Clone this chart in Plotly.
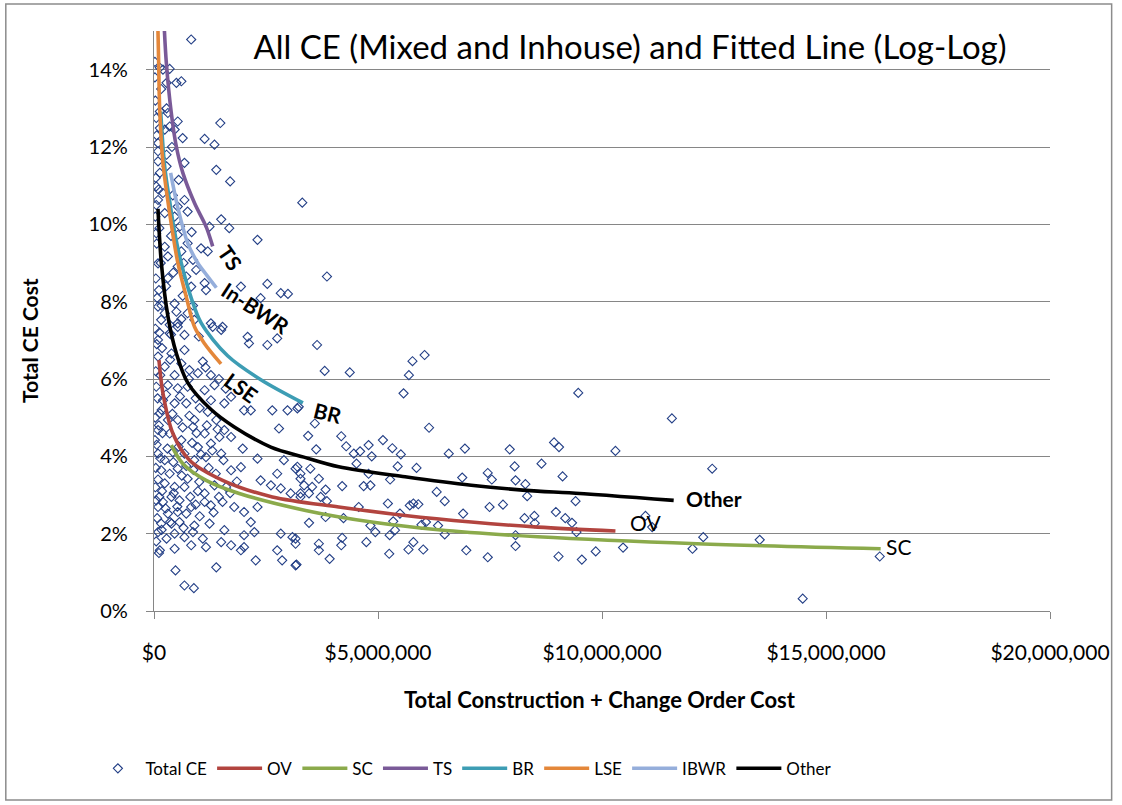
import plotly.graph_objects as go

# ---------------------------------------------------------------------------
# Individual CE records: total construction + change-order cost ($ millions)
# and total CE cost (% of construction cost)
# ---------------------------------------------------------------------------
ce_cost_musd = [
    0.83, 0.02, 0.13, 0.20, 0.35, 0.02, 0.28, 0.50, 0.61, 0.16,
    0.28, 0.13, 0.31, 0.05, 0.53, 0.35, 0.13, 0.24, 0.46, 1.48, 0.64, 1.13, 1.35, 0.09,
    0.09, 0.28, 0.09, 0.68, 0.28, 1.39, 0.13, 1.70, 0.05, 0.20, 0.09, 0.68, 0.53, 0.05,
    0.75, 0.24, 0.46, 1.50, 1.24, 1.68, 0.05, 0.53, 2.31, 0.75, 0.24, 1.05, 1.20, 0.61,
    0.31, 0.87, 0.09, 0.53, 0.94, 0.72, 0.31, 1.13, 1.16, 1.94, 2.53, 2.83, 2.99, 2.38,
    0.83, 0.09, 0.24, 0.50, 0.75, 0.90, 1.27, 1.53, 0.16, 0.35, 0.53, 3.31, 3.86,
    0.09, 0.35, 0.53, 0.68, 1.31, 1.50, 2.09, 2.53, 2.75, 2.12,
    0.09, 0.39, 0.24, 0.61, 0.79, 1.09, 0.98, 1.27, 0.05, 0.31, 0.53, 0.75, 1.13, 1.35,
    1.72, 1.57, 2.01, 2.16, 2.64, 2.98, 3.20, 2.79, 0.20, 0.46, 0.72, 0.90, 0.87, 1.27,
    1.20, 1.39, 1.57, 1.72, 1.46, 0.13, 0.31, 0.53, 0.09, 0.35, 0.61, 1.13, 1.27, 0.02,
    0.09, 0.24, 0.42, 0.68, 0.98, 0.90, 1.16, 1.50, 1.98, 2.31, 1.94, 1.72, 2.90, 3.16,
    3.27, 0.16, 0.35, 0.53, 0.75, 0.24, 0.46, 0.68, 1.01, 1.13, 1.35, 1.61, 2.38, 2.61,
    2.83, 3.05, 3.27, 2.75, 0.05, 0.20, 0.39, 0.57, 0.83, 1.13, 1.27, 1.53, 1.79, 2.01,
    2.31, 2.16, 0.09, 0.31, 0.53, 0.72, 0.16, 0.39, 0.57, 0.90, 1.24, 1.57, 2.01, 2.24,
    2.83, 3.09, 0.09, 0.28, 0.46, 0.68, 0.87, 1.09, 1.16, 1.50, 1.72, 1.94, 2.01, 2.75,
    3.16, 0.13, 0.46, 0.83, 2.27, 2.86, 3.16, 0.48, 1.39, 0.68, 0.89,
    0.03, 0.06, 0.04, 0.10, 0.03, 0.12, 0.06, 0.15, 0.04, 0.11, 0.07, 0.17, 0.03, 0.12,
    0.06, 0.18, 0.04, 0.14, 0.08, 0.17, 0.03, 0.11, 0.19, 0.06, 0.14, 0.04, 0.09, 0.18,
    0.03, 0.12, 0.07, 0.17, 0.05, 0.11,
    0.27, 0.41, 0.58, 0.64, 0.79, 0.95, 1.02, 1.18, 1.30, 1.42, 1.05, 0.85, 0.72, 0.55,
    0.43, 0.30, 0.62, 0.88, 1.22, 1.38, 1.55, 0.98, 0.81, 0.52, 0.36, 0.66, 1.02, 1.33,
    1.45, 0.93, 0.26, 0.44, 1.70, 1.85, 0.78, 0.46, 0.93, 1.15, 0.36, 0.68, 1.45, 1.60,
    0.42, 0.58, 0.38, 0.66, 0.43, 0.84, 0.27, 0.64, 0.46, 0.87, 0.38, 0.61, 1.00, 0.55,
    0.40,
    3.64, 3.81, 4.37, 5.77, 6.04, 5.69, 5.57,
    3.23, 3.59, 3.44, 4.18, 3.62, 4.29, 4.46, 4.60, 4.79, 4.86, 5.11, 5.32, 5.51, 6.14,
    6.58, 6.94, 7.94,
    4.52, 5.44, 5.86, 4.79, 4.20, 4.68, 4.83, 5.27, 6.31, 6.49, 6.88, 7.45, 7.54,
    3.20, 3.27, 3.49, 3.68, 3.35, 3.46, 3.53, 3.72, 3.83, 3.86, 3.27,
    5.22, 5.71, 5.79, 5.90, 4.57, 5.49, 4.23, 3.83, 3.46, 6.90, 7.49, 7.79,
    4.83, 5.34, 5.97, 6.07, 6.34, 6.49, 4.94, 5.26, 5.38,
    3.16, 3.68, 4.20, 4.18, 4.74, 5.79, 5.68, 6.01, 3.68, 5.25, 6.97, 7.45, 3.92, 3.18,
    9.47, 11.56, 8.93, 9.04, 10.30, 8.05, 8.65, 9.12, 12.46, 8.07, 8.29, 8.33, 9.41,
    8.27, 8.49, 8.97, 9.18, 9.33, 8.50, 9.43, 10.97, 11.12, 8.07, 8.07, 12.26, 12.02,
    9.03, 9.55, 9.86, 10.47,
    13.52, 16.20, 14.48,
]
ce_pct = [
    14.78, 14.20, 14.05, 14.00, 14.02, 13.80, 13.66, 13.66, 13.70, 13.50,
    13.00, 12.92, 12.88, 12.75, 12.66, 12.53, 12.49, 12.45, 12.45, 12.62, 12.23, 12.21, 12.06, 12.10,
    11.89, 11.80, 11.63, 11.59, 11.50, 11.41, 11.33, 11.11, 10.98, 10.81, 10.63, 10.63, 10.46, 10.50,
    10.33, 10.29, 10.20, 10.13, 9.94, 9.90, 9.77, 9.73, 9.60, 9.51, 9.42, 9.38, 9.30, 9.30,
    9.17, 9.08, 8.99, 8.91, 8.82, 8.65, 8.61, 8.48, 8.30, 8.39, 8.46, 8.22, 8.20, 8.09,
    8.39, 7.87, 7.70, 7.74, 7.70, 7.53, 7.44, 7.35, 7.53, 7.40, 7.44, 10.56, 8.65,
    7.01, 7.18, 7.35, 7.14, 7.35, 7.27, 7.09, 6.88, 7.05, 6.92,
    6.58, 6.66, 6.32, 6.40, 6.23, 6.45, 6.15, 6.10, 5.80, 5.84, 5.76, 5.80, 5.71, 5.84,
    5.54, 5.37, 5.19, 5.19, 5.19, 5.19, 5.24, 4.72, 5.45, 5.37, 5.37, 4.94, 4.76, 5.45,
    5.15, 4.94, 4.68, 4.50, 4.50, 5.11, 4.94, 4.94, 4.68, 4.59, 4.42, 4.59, 4.33, 4.42,
    4.07, 3.90, 4.11, 4.07, 4.24, 3.90, 3.98, 4.07, 4.20, 3.94, 3.72, 3.64, 3.90, 3.68,
    3.55, 3.64, 3.55, 3.68, 3.42, 3.30, 3.21, 3.21, 3.34, 3.04, 3.25, 3.21, 3.38, 3.25,
    3.17, 3.04, 3.04, 3.55, 2.86, 2.82, 2.95, 2.86, 2.69, 2.82, 2.73, 2.82, 2.69, 2.56,
    2.69, 2.30, 2.69, 2.52, 2.56, 2.52, 2.26, 2.26, 2.30, 2.21, 2.26, 2.09, 1.96, 2.04,
    2.00, 1.91, 2.04, 1.87, 2.00, 1.91, 2.04, 1.87, 1.65, 1.78, 1.70, 1.57, 1.65, 1.57,
    1.87, 1.57, 1.61, 1.70, 1.31, 1.31, 1.18, 1.05, 1.13, 0.66, 0.59,
    13.20, 12.30, 11.20, 10.90, 10.20, 9.90, 9.50, 9.00, 8.60, 8.30, 8.10, 7.90, 7.30, 7.20,
    6.90, 6.80, 6.20, 6.10, 5.50, 5.20, 5.00, 4.80, 4.60, 4.30, 3.95, 3.70, 3.40, 3.10,
    3.20, 2.95, 2.40, 2.10, 1.80, 1.50,
    5.60, 5.10, 5.55, 4.75, 5.05, 4.60, 5.25, 4.80, 4.15, 4.70, 4.05, 4.35, 3.75, 4.25,
    3.85, 4.20, 3.50, 3.65, 3.70, 3.55, 3.90, 3.10, 2.95, 2.70, 2.30, 2.15, 2.45, 2.55,
    2.95, 2.75, 2.65, 3.05, 3.05, 3.35, 6.00, 6.10, 5.50, 6.30, 6.50, 6.75, 6.00, 5.75,
    10.75, 9.95, 9.70, 9.00, 8.75, 9.80, 8.40, 8.15, 7.95, 7.90, 7.15, 7.55, 7.10, 11.15,
    12.00,
    6.88, 6.21, 6.17, 6.46, 6.62, 6.10, 5.63,
    5.28, 4.85, 4.53, 4.52, 4.18, 4.26, 4.07, 4.13, 4.29, 4.00, 4.42, 4.21, 4.05, 4.74,
    4.07, 4.20, 4.18,
    3.81, 3.74, 3.70, 3.55, 3.23, 3.23, 3.25, 3.40, 3.08, 2.84, 3.45, 3.57, 3.40,
    3.73, 3.42, 3.68, 3.42, 3.25, 3.04, 3.21, 2.95, 3.14, 2.84, 2.95,
    2.78, 2.73, 2.78, 2.76, 2.69, 2.52, 2.40, 2.43, 2.28, 2.52, 2.69, 2.75,
    2.21, 2.32, 2.23, 2.30, 2.21, 1.98, 2.04, 1.96, 2.09,
    1.74, 1.74, 1.89, 1.70, 1.78, 1.78, 1.59, 1.59, 1.57, 1.48, 1.57, 1.39, 1.35, 1.20,
    5.64, 4.98, 4.36, 4.24, 4.14, 3.74, 3.81, 3.48, 3.68, 3.38, 3.28, 2.97, 2.84,
    2.40, 2.46, 2.56, 2.40, 2.28, 2.27, 2.04, 2.46, 2.17, 1.96, 1.68, 1.91, 1.61,
    1.41, 1.33, 1.54, 1.64,
    1.84, 1.41, 0.32,
]

# ---------------------------------------------------------------------------
# Fitted log-log lines by work type (cost in $ millions, CE in %)
# ---------------------------------------------------------------------------
ov_x = [0.111, 0.200, 0.422, 0.793, 1.532, 2.642, 4.123, 5.604, 7.082, 8.563, 10.30]
ov_y = [6.49, 5.63, 4.59, 3.90, 3.38, 2.95, 2.69, 2.47, 2.30, 2.17, 2.07]

sc_x = [0.386, 0.644, 1.163, 1.903, 3.384, 4.862, 6.343, 8.563, 12.12, 16.22]
sc_y = [4.29, 3.81, 3.38, 3.04, 2.60, 2.30, 2.10, 1.92, 1.74, 1.61]

ts_x = [0.22, 0.275, 0.386, 0.497, 0.644, 0.904, 1.163, 1.31]
ts_y = [15.3, 14.18, 12.88, 12.02, 11.33, 10.55, 9.94, 9.43]

br_x = [0.149, 0.238, 0.349, 0.46, 0.608, 0.83, 1.052, 1.643, 2.385, 3.324]
br_y = [12.92, 11.50, 10.60, 9.80, 9.00, 8.10, 7.45, 6.60, 5.98, 5.38]

lse_x = [0.085, 0.104, 0.127, 0.200, 0.349, 0.533, 0.719, 0.904, 1.126, 1.496]
lse_y = [15.2, 14.18, 12.97, 11.59, 10.29, 9.00, 8.13, 7.35, 6.92, 6.39]

ibwr_x = [0.371, 0.526, 0.755, 0.977, 1.18, 1.392]
ibwr_y = [11.33, 10.46, 9.51, 9.00, 8.68, 8.36]

other_x = [0.0888, 0.164, 0.311, 0.497, 0.755, 1.274, 1.792, 2.607, 3.346, 4.123,
           5.604, 7.082, 8.563, 9.267, 11.60]
other_y = [10.40, 9.00, 7.62, 6.67, 5.90, 5.21, 4.76, 4.24, 3.98, 3.73,
           3.47, 3.25, 3.10, 3.06, 2.86]

# Curve label text and anchor points ($ millions, %)
curve_labels = ["TS", "In-BWR", "LSE", "BR", "Other", "OV", "SC"]
label_x = [1.70, 2.26, 1.95, 3.88, 12.50, 10.96, 16.61]
label_y = [9.13, 7.84, 5.78, 5.14, 2.90, 2.29, 1.68]

x_ticks = [0, 5e6, 10e6, 15e6, 20e6]
x_tick_text = ["$0", "$5,000,000", "$10,000,000", "$15,000,000", "$20,000,000"]
y_ticks = [0, 0.02, 0.04, 0.06, 0.08, 0.10, 0.12, 0.14]
y_tick_text = ["0%", "2%", "4%", "6%", "8%", "10%", "12%", "14%"]

FONT = "Lato"
GRID = "#868686"


def dollars(vals_m):
    return [v * 1e6 for v in vals_m]


def frac(vals_pct):
    return [v / 100.0 for v in vals_pct]


fig = go.Figure()

fig.add_trace(go.Scatter(
    x=dollars(ce_cost_musd), y=frac(ce_pct), mode="markers", name="Total CE",
    marker=dict(symbol="diamond-open", size=7, color="#233F86", line=dict(width=1.1)),
))

fits = [
    ("OV", ov_x, ov_y, "#B2443F"),
    ("SC", sc_x, sc_y, "#8BAA4B"),
    ("TS", ts_x, ts_y, "#7A5A98"),
    ("BR", br_x, br_y, "#3D9DB4"),
    ("LSE", lse_x, lse_y, "#E4873A"),
    ("IBWR", ibwr_x, ibwr_y, "#95AEDB"),
    ("Other", other_x, other_y, "#000000"),
]
for name, xs, ys, color in fits:
    fig.add_trace(go.Scatter(
        x=dollars(xs), y=frac(ys), mode="lines", name=name,
        line=dict(color=color, width=3.6, shape="spline", smoothing=0.9),
    ))

label_style = {
    "TS": dict(angle=55, bold=True),
    "In-BWR": dict(angle=33, bold=True),
    "LSE": dict(angle=36, bold=True),
    "BR": dict(angle=14, bold=True),
    "Other": dict(angle=0, bold=True),
    "OV": dict(angle=0, bold=False),
    "SC": dict(angle=0, bold=False),
}
for text, lx, ly in zip(curve_labels, label_x, label_y):
    st = label_style[text]
    fig.add_annotation(
        x=lx * 1e6, y=ly / 100.0, xref="x", yref="y",
        xanchor="center", yanchor="middle",
        text=f"<b>{text}</b>" if st["bold"] else text,
        showarrow=False, textangle=st["angle"],
        font=dict(family=FONT, size=21, color="#000000"),
    )

# Axis titles
fig.add_annotation(
    x=-0.1398, y=0.467, xref="paper", yref="paper", showarrow=False,
    xanchor="center", yanchor="middle",
    text="<b>Total CE Cost</b>", textangle=-90,
    font=dict(family=FONT, size=21, color="#000000"),
)
fig.add_annotation(
    x=0.498, y=-0.1534, xref="paper", yref="paper", showarrow=False,
    xanchor="center", yanchor="middle",
    text="<b>Total Construction + Change Order Cost</b>",
    font=dict(family=FONT, size=22, color="#000000"),
)

# Chart-area border
fig.add_shape(
    type="rect", xref="paper", yref="paper",
    x0=-0.1654, x1=1.0688, y0=-0.3259, y1=1.0466,
    line=dict(color="#8C8C8C", width=1.5), fillcolor="rgba(0,0,0,0)", layer="below",
)

fig.update_layout(
    width=1122, height=805,
    margin=dict(l=154, r=67, t=31, b=194),
    paper_bgcolor="#FFFFFF", plot_bgcolor="#FFFFFF",
    font=dict(family=FONT, color="#000000"),
    title=dict(
        text="All CE (Mixed and Inhouse) and Fitted Line (Log-Log)",
        x=0.5615, y=0.9416, xanchor="center", yanchor="middle",
        font=dict(family=FONT, size=33, color="#000000"),
    ),
    showlegend=True,
    legend=dict(
        orientation="h", x=-0.071, xanchor="left", y=-0.272, yanchor="middle",
        font=dict(family=FONT, size=17, color="#000000"),
        bgcolor="rgba(0,0,0,0)", itemwidth=45,
    ),
    xaxis=dict(
        range=[0, 20e6], tickvals=x_ticks, ticktext=x_tick_text,
        showgrid=False, zeroline=False,
        showline=True, linecolor=GRID, linewidth=1.3,
        ticks="outside", ticklen=7, tickcolor=GRID, tickwidth=1.3,
        ticklabelstandoff=16,
        tickfont=dict(family=FONT, size=21, color="#000000"),
    ),
    yaxis=dict(
        range=[0, 0.15], tickvals=y_ticks, ticktext=y_tick_text,
        showgrid=True, gridcolor=GRID, gridwidth=1.3, zeroline=False,
        showline=True, linecolor=GRID, linewidth=1.3,
        ticks="outside", ticklen=7, tickcolor=GRID, tickwidth=1.3,
        ticklabelstandoff=14,
        tickfont=dict(family=FONT, size=20, color="#000000"),
    ),
)

fig.write_html("out.html")
